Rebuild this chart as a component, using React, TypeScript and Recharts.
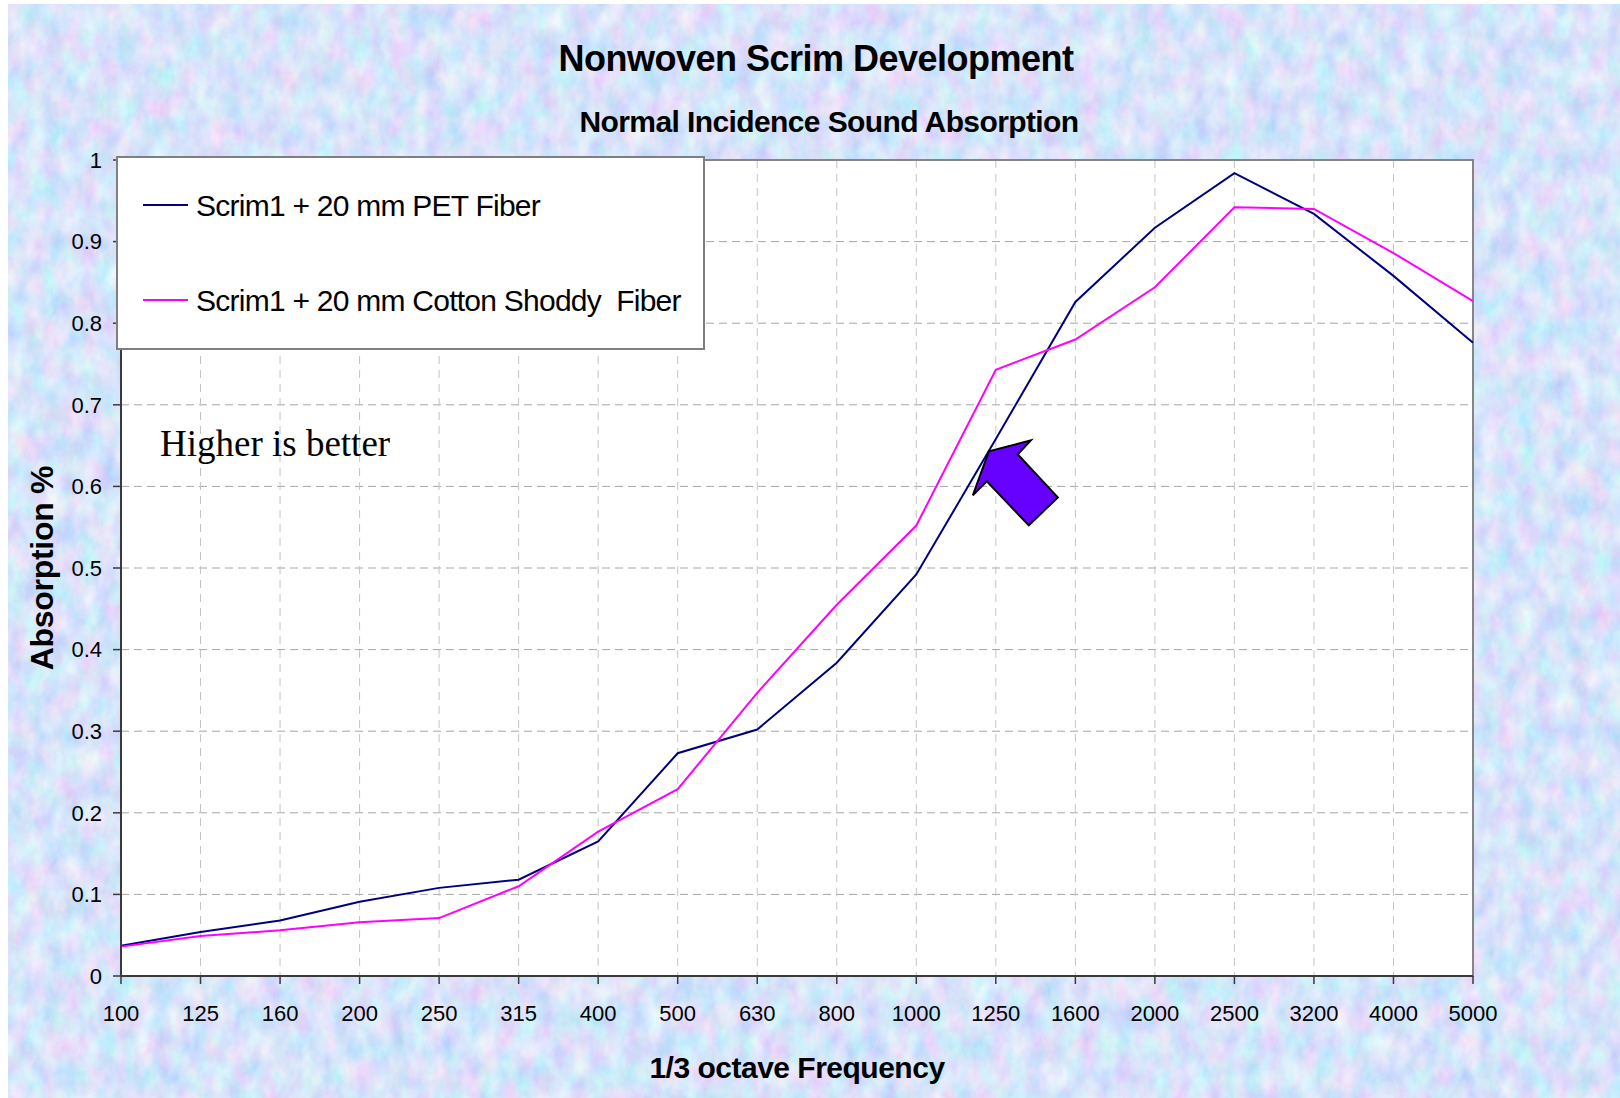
import { LineChart, Line, XAxis, YAxis, CartesianGrid, Legend, ReferenceArea, ReferenceDot } from 'recharts'

// 1/3 octave centre frequencies (Hz)
const frequencies = ['100', '125', '160', '200', '250', '315', '400', '500', '630', '800', '1000', '1250', '1600', '2000', '2500', '3200', '4000', '5000']

// normal incidence absorption coefficients
const petFiber = [0.037, 0.054, 0.068, 0.091, 0.108, 0.118, 0.165, 0.273, 0.302, 0.384, 0.492, 0.658, 0.826, 0.917, 0.984, 0.934, 0.858, 0.776]
const cottonShoddy = [0.036, 0.049, 0.056, 0.066, 0.071, 0.110, 0.177, 0.229, 0.347, 0.455, 0.552, 0.743, 0.780, 0.844, 0.942, 0.940, 0.886, 0.827]

const yTicks = [0, 0.1, 0.2, 0.3, 0.4, 0.5, 0.6, 0.7, 0.8, 0.9, 1]

const seriesOrder = ['pet', 'cotton']

const data = frequencies.map((f, i) => ({ freq: f, pet: petFiber[i], cotton: cottonShoddy[i] }))

const sans = '"Liberation Sans", Arial, sans-serif'
const serif = '"Liberation Serif", "Times New Roman", serif'

// block arrow outline, relative to its anchor point
const arrowPts = [[-7, -35], [-23, 9], [-9, -5], [33, 39], [62, 11], [22, -32], [35, -46]]

const Arrow = (props: any) => {
  const { cx, cy } = props
  const pts = arrowPts.map(([dx, dy]) => `${cx + dx},${cy + dy}`).join(' ')
  return <polygon points={pts} fill="#6600ff" stroke="#000" strokeWidth={2} />
}

const renderLegend = (props: any) => {
  const payload = [...(props.payload || [])].sort(
    (a: any, b: any) => seriesOrder.indexOf(a.dataKey) - seriesOrder.indexOf(b.dataKey)
  )
  return (
    <svg width={589} height={194} style={{ display: 'block' }}>
      <rect x={1} y={1} width={587} height={192} fill="#fff" stroke="#7f7f7f" strokeWidth={2} />
      {payload.map((entry: any, i: number) => (
        <g key={entry.value}>
          <line x1={27} x2={72} y1={49 + i * 95} y2={49 + i * 95} stroke={entry.color} strokeWidth={2} />
          <text
            x={80}
            y={60 + i * 95}
            fontSize={30}
            fontFamily={sans}
            letterSpacing={-0.75}
            fill="#000"
            xmlSpace="preserve"
            style={{ whiteSpace: 'pre' }}
          >
            {entry.value}
          </text>
        </g>
      ))}
    </svg>
  )
}

export default function App() {
  return (
    <div style={{ position: 'absolute', left: 0, top: 0, width: 1620, height: 1098, background: '#fff', overflow: 'hidden' }}>
      <svg style={{ position: 'absolute', left: 8, top: 4 }} width={1612} height={1094}>
        <defs>
          <filter id="tex" x="0" y="0" width="100%" height="100%">
            <feTurbulence type="fractalNoise" baseFrequency="0.055 0.035" numOctaves={4} seed={11} />
            <feColorMatrix type="matrix" values="0.6 0 0 0 0.38  0 0.45 0 0 0.55  0 0 0.15 0 0.88  0 0 0 0 1" />
          </filter>
        </defs>
        <rect width="100%" height="100%" fill="#b4c6f4" filter="url(#tex)" />
      </svg>

      <div style={{ position: 'absolute', left: 316, top: 41, width: 1000, textAlign: 'center', fontFamily: sans, fontWeight: 700, fontSize: 36, lineHeight: '36px', letterSpacing: -0.5 }}>
        Nonwoven Scrim Development
      </div>
      <div style={{ position: 'absolute', left: 329, top: 107, width: 1000, textAlign: 'center', fontFamily: sans, fontWeight: 700, fontSize: 30, lineHeight: '30px', letterSpacing: -0.6 }}>
        Normal Incidence Sound Absorption
      </div>

      <div style={{ position: 'absolute', left: 0, top: 0 }}>
        <LineChart width={1620} height={1098} data={data} margin={{ top: 160, right: 147, bottom: 12, left: 20 }}>
          <CartesianGrid horizontal vertical={false} fill="#fff" stroke="#a6a6a6" strokeDasharray="8 5" />
          <CartesianGrid horizontal={false} vertical stroke="#c4c4c4" strokeDasharray="8 6" />
          <ReferenceArea x1="100" x2="5000" y1={0} y2={1} fill="none" stroke="#858585" strokeWidth={2} />
          <XAxis
            dataKey="freq"
            interval={0}
            height={110}
            tickSize={8}
            tickMargin={21}
            tick={{ fill: '#000', fontSize: 22, fontFamily: sans }}
            axisLine={{ stroke: '#3a3a3a', strokeWidth: 2 }}
            tickLine={{ stroke: '#3a3a3a', strokeWidth: 1.5 }}
            label={{
              value: '1/3 octave Frequency',
              position: 'insideBottom',
              offset: 8,
              style: { fontSize: 30, fontWeight: 700, fontFamily: sans, fill: '#000', letterSpacing: -0.5 },
            }}
          />
          <YAxis
            type="number"
            domain={[0, 1]}
            ticks={yTicks}
            width={101}
            tickSize={8}
            tickMargin={11}
            tick={{ fill: '#000', fontSize: 22, fontFamily: sans }}
            axisLine={{ stroke: '#3a3a3a', strokeWidth: 2 }}
            tickLine={{ stroke: '#3a3a3a', strokeWidth: 1.5 }}
            label={{
              value: 'Absorption %',
              angle: -90,
              position: 'insideLeft',
              offset: 22,
              style: { textAnchor: 'middle', fontSize: 32, fontWeight: 700, fontFamily: sans, fill: '#000', letterSpacing: -0.3 },
            }}
          />
          <Line type="linear" dataKey="pet" name="Scrim1 + 20 mm PET Fiber" stroke="#000080" strokeWidth={2} dot={false} isAnimationActive={false} />
          <Line type="linear" dataKey="cotton" name="Scrim1 + 20 mm Cotton Shoddy  Fiber" stroke="#ff00ff" strokeWidth={2} dot={false} isAnimationActive={false} />
          <ReferenceDot x="1250" y={0.6} r={0} shape={Arrow} ifOverflow="visible" />
          <Legend
            layout="vertical"
            align="center"
            verticalAlign="middle"
            content={renderLegend}
            wrapperStyle={{ left: 116, top: 156, width: 589, height: 194 }}
          />
        </LineChart>
      </div>

      <div style={{ position: 'absolute', left: 160, top: 425, fontFamily: serif, fontSize: 37, lineHeight: '37px', whiteSpace: 'nowrap' }}>
        Higher is better
      </div>
    </div>
  )
}
